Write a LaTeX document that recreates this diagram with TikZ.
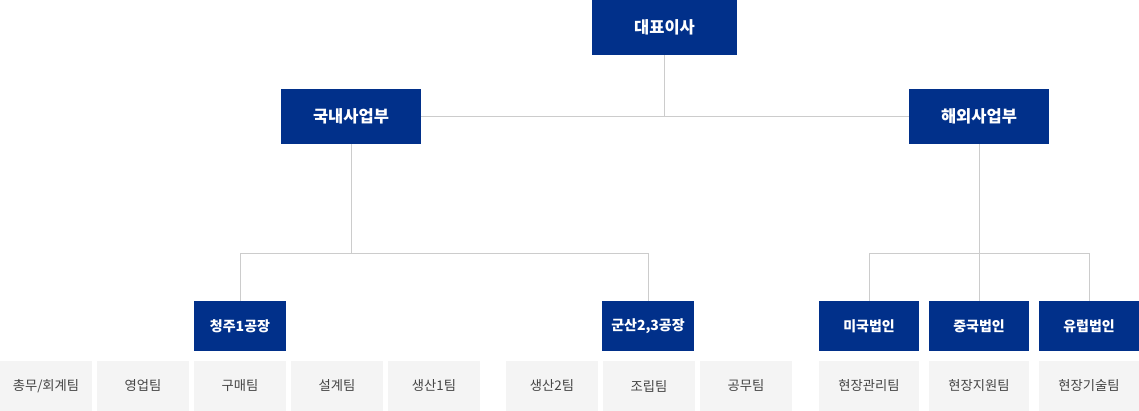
\documentclass[tikz,border=0pt]{standalone}
\usepackage{fontspec}
\setmainfont{Noto Sans CJK KR}
\definecolor{navy}{RGB}{1,48,138}
\definecolor{teambg}{RGB}{244,244,244}
\definecolor{teamfg}{RGB}{68,68,68}
\definecolor{linegray}{RGB}{204,204,204}
\begin{document}
\begin{tikzpicture}[x=1pt,y=-1pt,
				head/.style={fill=navy,text=white,font=\bfseries\fontsize{16.5}{19}\selectfont,inner sep=0pt,minimum height=55pt},
				unit/.style={fill=navy,text=white,font=\bfseries\fontsize{14}{17}\selectfont,inner sep=0pt,minimum height=50pt},
				team/.style={fill=teambg,text=teamfg,font=\fontsize{13.3}{16}\selectfont,inner sep=0pt,minimum height=50pt,minimum width=92pt},
				link/.style={draw=linegray,line width=1pt}]
\useasboundingbox (0,0) rectangle (1139,411);
\node[head,minimum width=145pt] (ceo) at (664.5,27.5) {대표이사};
\node[head,minimum width=140pt] (dom) at (351,116.5) {국내사업부};
\node[head,minimum width=140pt] (ovs) at (979,116.5) {해외사업부};
\node[unit,minimum width=92pt] (cj) at (240,326) {청주1공장};
\node[unit,minimum width=92pt] (gs) at (648,326) {군산2,3공장};
\node[unit,minimum width=100pt] (us) at (869,326) {미국법인};
\node[unit,minimum width=100pt] (cn) at (979,326) {중국법인};
\node[unit,minimum width=100pt] (eu) at (1089,326) {유럽법인};
\node[team] (t1) at (46,386) {총무/회계팀};
\node[team] (t2) at (143,386) {영업팀};
\node[team] (t3) at (240,386) {구매팀};
\node[team] (t4) at (337,386) {설계팀};
\node[team] (t5) at (434,386) {생산1팀};
\node[team] (t6) at (552,386) {생산2팀};
\node[team] (t7) at (649,386) {조립팀};
\node[team] (t8) at (746,386) {공무팀};
\node[team,minimum width=100pt] (t9) at (869,386) {현장관리팀};
\node[team,minimum width=100pt] (t10) at (979,386) {현장지원팀};
\node[team,minimum width=100pt] (t11) at (1089,386) {\raisebox{-2pt}{현장기술팀}};
\coordinate (dj) at (351,253.5);
\coordinate (oj) at (979,253.5);
\draw[link] (ceo.south) -- (ceo.south |- dom.east);
\draw[link] (dom.east) -- (ovs.west);
\draw[link] (dom.south) -- (dj);
\draw[link] (cj.north) |- (dj) -| (gs.north);
\draw[link] (ovs.south) -- (oj);
\draw[link] (us.north) |- (oj) -| (eu.north);
\draw[link] (oj) -- (cn.north);
\end{tikzpicture}
\end{document}
